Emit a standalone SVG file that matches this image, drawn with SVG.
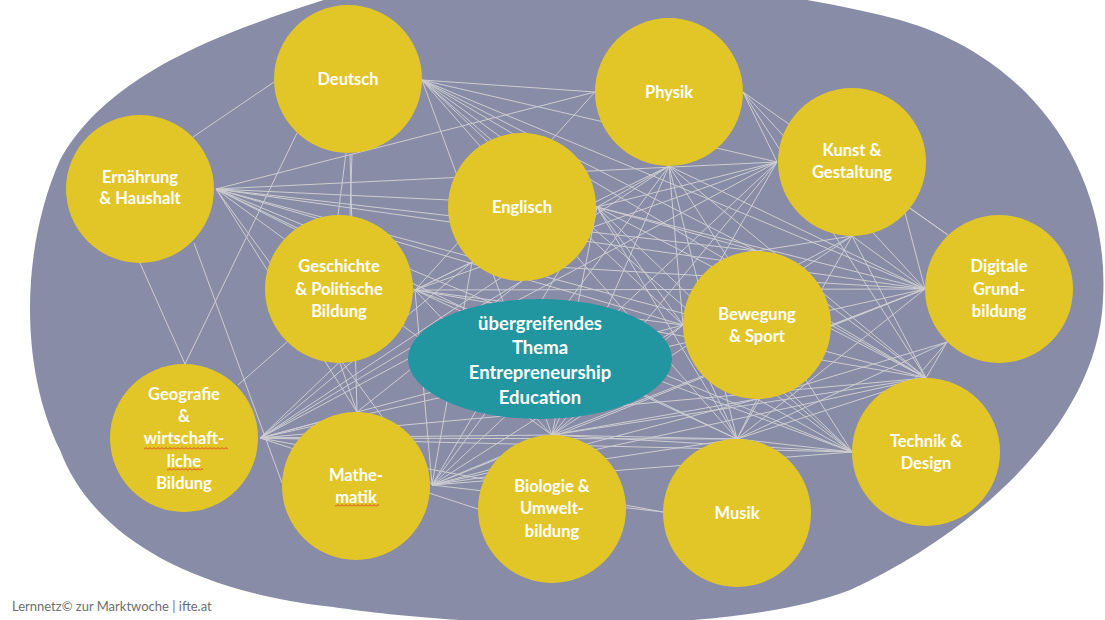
<svg xmlns="http://www.w3.org/2000/svg" width="1105" height="620" viewBox="0 0 1105 620">
<style>
.bg{fill:#ffffff}
.blob{fill:#898CA6}
.c{fill:#E2C628}
.hub{fill:#2195A0}
.t{font-family:Lato,"Open Sans","Liberation Sans",sans-serif;font-weight:700;font-size:16.5px;fill:#ffffff;text-anchor:middle}
.te{font-size:18.5px}
.cn line{stroke:#CDCDD1;stroke-width:1}
.foot{font-family:Lato,"Liberation Sans",sans-serif;font-size:13px;fill:#6E6E6E}
</style>
<defs>
<pattern id="wavy" width="4" height="3" patternUnits="userSpaceOnUse"><path d="M0,2.5 L2,0.5 L4,2.5" fill="none" stroke="#E0202A" stroke-width="0.8"/></pattern>
</defs>
<rect class="bg" x="0" y="0" width="1105" height="620"/>
<path class="blob" d="M330,-2 C500,-40 750,-20 900,20 C1040,60 1110,180 1103,300 C1098,420 980,530 850,590 C720,640 450,625 333,607 C180,590 90,530 60,450 C20,370 20,250 60,160 C110,70 230,30 330,-2 Z"/>
<g id="connectors" class="cn">
<line x1="274" y1="82" x2="193" y2="137"/>
<line x1="422" y1="80" x2="595" y2="92"/>
<line x1="422" y1="80" x2="597" y2="207"/>
<line x1="422" y1="80" x2="777" y2="162"/>
<line x1="422" y1="80" x2="925" y2="289"/>
<line x1="422" y1="80" x2="683" y2="325"/>
<line x1="422" y1="80" x2="757" y2="251"/>
<line x1="422" y1="80" x2="737" y2="439"/>
<line x1="422" y1="80" x2="926" y2="378"/>
<line x1="422" y1="80" x2="552" y2="435"/>
<line x1="422" y1="80" x2="852" y2="452"/>
<line x1="346" y1="153" x2="338" y2="215"/>
<line x1="352" y1="154" x2="350" y2="216"/>
<line x1="297" y1="133" x2="185" y2="364"/>
<line x1="350" y1="154" x2="357" y2="412"/>
<line x1="216" y1="189" x2="595" y2="92"/>
<line x1="216" y1="189" x2="597" y2="207"/>
<line x1="216" y1="189" x2="777" y2="162"/>
<line x1="216" y1="189" x2="925" y2="289"/>
<line x1="216" y1="189" x2="683" y2="325"/>
<line x1="216" y1="189" x2="757" y2="251"/>
<line x1="216" y1="189" x2="415" y2="290"/>
<line x1="216" y1="189" x2="737" y2="439"/>
<line x1="216" y1="189" x2="852" y2="452"/>
<line x1="216" y1="189" x2="552" y2="435"/>
<line x1="216" y1="189" x2="357" y2="412"/>
<line x1="216" y1="189" x2="926" y2="378"/>
<line x1="216" y1="189" x2="432" y2="485"/>
<line x1="140" y1="263" x2="185" y2="364"/>
<line x1="194" y1="243" x2="282" y2="483"/>
<line x1="595" y1="92" x2="415" y2="290"/>
<line x1="669" y1="166" x2="597" y2="207"/>
<line x1="669" y1="166" x2="415" y2="290"/>
<line x1="669" y1="166" x2="260" y2="438"/>
<line x1="669" y1="166" x2="432" y2="485"/>
<line x1="669" y1="166" x2="552" y2="435"/>
<line x1="669" y1="166" x2="737" y2="439"/>
<line x1="669" y1="166" x2="683" y2="325"/>
<line x1="669" y1="166" x2="926" y2="378"/>
<line x1="669" y1="166" x2="925" y2="289"/>
<line x1="669" y1="166" x2="852" y2="452"/>
<line x1="743" y1="92" x2="777" y2="162"/>
<line x1="743" y1="92" x2="925" y2="289"/>
<line x1="743" y1="92" x2="926" y2="378"/>
<line x1="743" y1="92" x2="948" y2="235"/>
<line x1="597" y1="207" x2="777" y2="162"/>
<line x1="597" y1="207" x2="925" y2="289"/>
<line x1="597" y1="207" x2="683" y2="325"/>
<line x1="597" y1="207" x2="757" y2="251"/>
<line x1="597" y1="207" x2="852" y2="452"/>
<line x1="597" y1="207" x2="926" y2="378"/>
<line x1="597" y1="207" x2="737" y2="439"/>
<line x1="597" y1="207" x2="552" y2="435"/>
<line x1="597" y1="207" x2="432" y2="485"/>
<line x1="472" y1="262" x2="415" y2="290"/>
<line x1="472" y1="262" x2="260" y2="438"/>
<line x1="472" y1="262" x2="432" y2="485"/>
<line x1="777" y1="162" x2="415" y2="290"/>
<line x1="777" y1="162" x2="683" y2="325"/>
<line x1="777" y1="162" x2="260" y2="438"/>
<line x1="777" y1="162" x2="432" y2="485"/>
<line x1="777" y1="162" x2="552" y2="435"/>
<line x1="852" y1="236" x2="757" y2="251"/>
<line x1="852" y1="236" x2="737" y2="439"/>
<line x1="852" y1="236" x2="926" y2="378"/>
<line x1="852" y1="236" x2="925" y2="289"/>
<line x1="852" y1="236" x2="552" y2="435"/>
<line x1="852" y1="236" x2="683" y2="325"/>
<line x1="905" y1="213" x2="925" y2="289"/>
<line x1="910" y1="208" x2="948" y2="235"/>
<line x1="925" y1="289" x2="415" y2="290"/>
<line x1="925" y1="289" x2="432" y2="485"/>
<line x1="925" y1="289" x2="260" y2="438"/>
<line x1="925" y1="289" x2="552" y2="435"/>
<line x1="925" y1="289" x2="472" y2="262"/>
<line x1="925" y1="289" x2="831" y2="325"/>
<line x1="925" y1="289" x2="737" y2="439"/>
<line x1="947" y1="342" x2="926" y2="378"/>
<line x1="947" y1="342" x2="737" y2="439"/>
<line x1="947" y1="342" x2="757" y2="399"/>
<line x1="947" y1="342" x2="852" y2="452"/>
<line x1="415" y1="290" x2="683" y2="325"/>
<line x1="415" y1="290" x2="737" y2="439"/>
<line x1="415" y1="290" x2="852" y2="452"/>
<line x1="415" y1="290" x2="552" y2="435"/>
<line x1="415" y1="290" x2="432" y2="485"/>
<line x1="287" y1="342" x2="238" y2="385"/>
<line x1="340" y1="363" x2="357" y2="412"/>
<line x1="415" y1="290" x2="260" y2="438"/>
<line x1="415" y1="290" x2="926" y2="378"/>
<line x1="260" y1="438" x2="357" y2="412"/>
<line x1="260" y1="438" x2="552" y2="435"/>
<line x1="260" y1="438" x2="737" y2="439"/>
<line x1="260" y1="438" x2="683" y2="325"/>
<line x1="260" y1="438" x2="852" y2="452"/>
<line x1="260" y1="438" x2="522" y2="281"/>
<line x1="260" y1="438" x2="478" y2="509"/>
<line x1="260" y1="438" x2="926" y2="378"/>
<line x1="260" y1="438" x2="663" y2="512"/>
<line x1="432" y1="485" x2="552" y2="435"/>
<line x1="432" y1="485" x2="737" y2="439"/>
<line x1="432" y1="485" x2="683" y2="325"/>
<line x1="432" y1="485" x2="852" y2="452"/>
<line x1="432" y1="485" x2="663" y2="512"/>
<line x1="432" y1="485" x2="757" y2="399"/>
<line x1="357" y1="412" x2="522" y2="281"/>
<line x1="432" y1="485" x2="926" y2="378"/>
<line x1="552" y1="435" x2="683" y2="325"/>
<line x1="552" y1="435" x2="737" y2="439"/>
<line x1="552" y1="435" x2="852" y2="452"/>
<line x1="552" y1="435" x2="926" y2="378"/>
<line x1="552" y1="435" x2="757" y2="399"/>
<line x1="737" y1="439" x2="757" y2="399"/>
<line x1="737" y1="439" x2="852" y2="452"/>
<line x1="737" y1="439" x2="683" y2="325"/>
<line x1="737" y1="439" x2="926" y2="378"/>
<line x1="831" y1="325" x2="926" y2="378"/>
<line x1="683" y1="325" x2="852" y2="452"/>
<line x1="757" y1="251" x2="926" y2="378"/>
<line x1="757" y1="399" x2="852" y2="452"/>
</g>
<g id="n-deutsch"><circle class="c" cx="348" cy="79" r="74"/><text class="t" x="348" y="85">Deutsch</text></g>
<g id="n-ernaehrung"><circle class="c" cx="140" cy="189" r="74"/><text class="t" x="140" y="183">Ernährung</text><text class="t" x="140" y="204">&amp; Haushalt</text></g>
<g id="n-physik"><circle class="c" cx="669" cy="92" r="74"/><text class="t" x="669" y="98">Physik</text></g>
<g id="n-englisch"><circle class="c" cx="522" cy="207" r="74"/><text class="t" x="522" y="213">Englisch</text></g>
<g id="n-kunst"><circle class="c" cx="852" cy="162" r="74"/><text class="t" x="852" y="156">Kunst &amp;</text><text class="t" x="852" y="178">Gestaltung</text></g>
<g id="n-digitale"><circle class="c" cx="999" cy="289" r="74"/><text class="t" x="999" y="272">Digitale</text><text class="t" x="999" y="295">Grund-</text><text class="t" x="999" y="317">bildung</text></g>
<g id="n-geschichte"><circle class="c" cx="339" cy="289" r="74"/><text class="t" x="339" y="272">Geschichte</text><text class="t" x="339" y="295">&amp; Politische</text><text class="t" x="339" y="317">Bildung</text></g>
<g id="n-bewegung"><circle class="c" cx="757" cy="325" r="74"/><text class="t" x="757" y="320">Bewegung</text><text class="t" x="757" y="342">&amp; Sport</text></g>
<g id="n-technik"><circle class="c" cx="926" cy="452" r="74"/><text class="t" x="926" y="447">Technik &amp;</text><text class="t" x="926" y="469">Design</text></g>
<g id="n-geografie"><circle class="c" cx="184" cy="438" r="74"/><text class="t" x="184" y="400">Geografie</text><text class="t" x="184" y="422">&amp;</text><text class="t" x="184" y="444">wirtschaft-</text><text class="t" x="184" y="467">liche</text><text class="t" x="184" y="489">Bildung</text><rect x="144" y="447" width="84" height="3" fill="url(#wavy)"/><rect x="167" y="468" width="36" height="3" fill="url(#wavy)"/></g>
<g id="n-mathematik"><circle class="c" cx="356" cy="486" r="74"/><text class="t" x="356" y="481">Mathe-</text><text class="t" x="356" y="503">matik</text><rect x="335" y="504" width="44" height="3" fill="url(#wavy)"/></g>
<g id="n-biologie"><circle class="c" cx="552" cy="509" r="74"/><text class="t" x="552" y="492">Biologie &amp;</text><text class="t" x="552" y="514">Umwelt-</text><text class="t" x="552" y="537">bildung</text></g>
<g id="n-musik"><circle class="c" cx="737" cy="513" r="74"/><text class="t" x="737" y="519">Musik</text></g>
<g id="n-thema"><ellipse class="hub" cx="540" cy="359" rx="132" ry="60"/><text class="t te" x="540" y="330">übergreifendes</text><text class="t te" x="540" y="354">Thema</text><text class="t te" x="540" y="379">Entrepreneurship</text><text class="t te" x="540" y="404">Education</text></g>
<text class="foot" x="12" y="611">Lernnetz© zur Marktwoche | ifte.at</text>
</svg>
